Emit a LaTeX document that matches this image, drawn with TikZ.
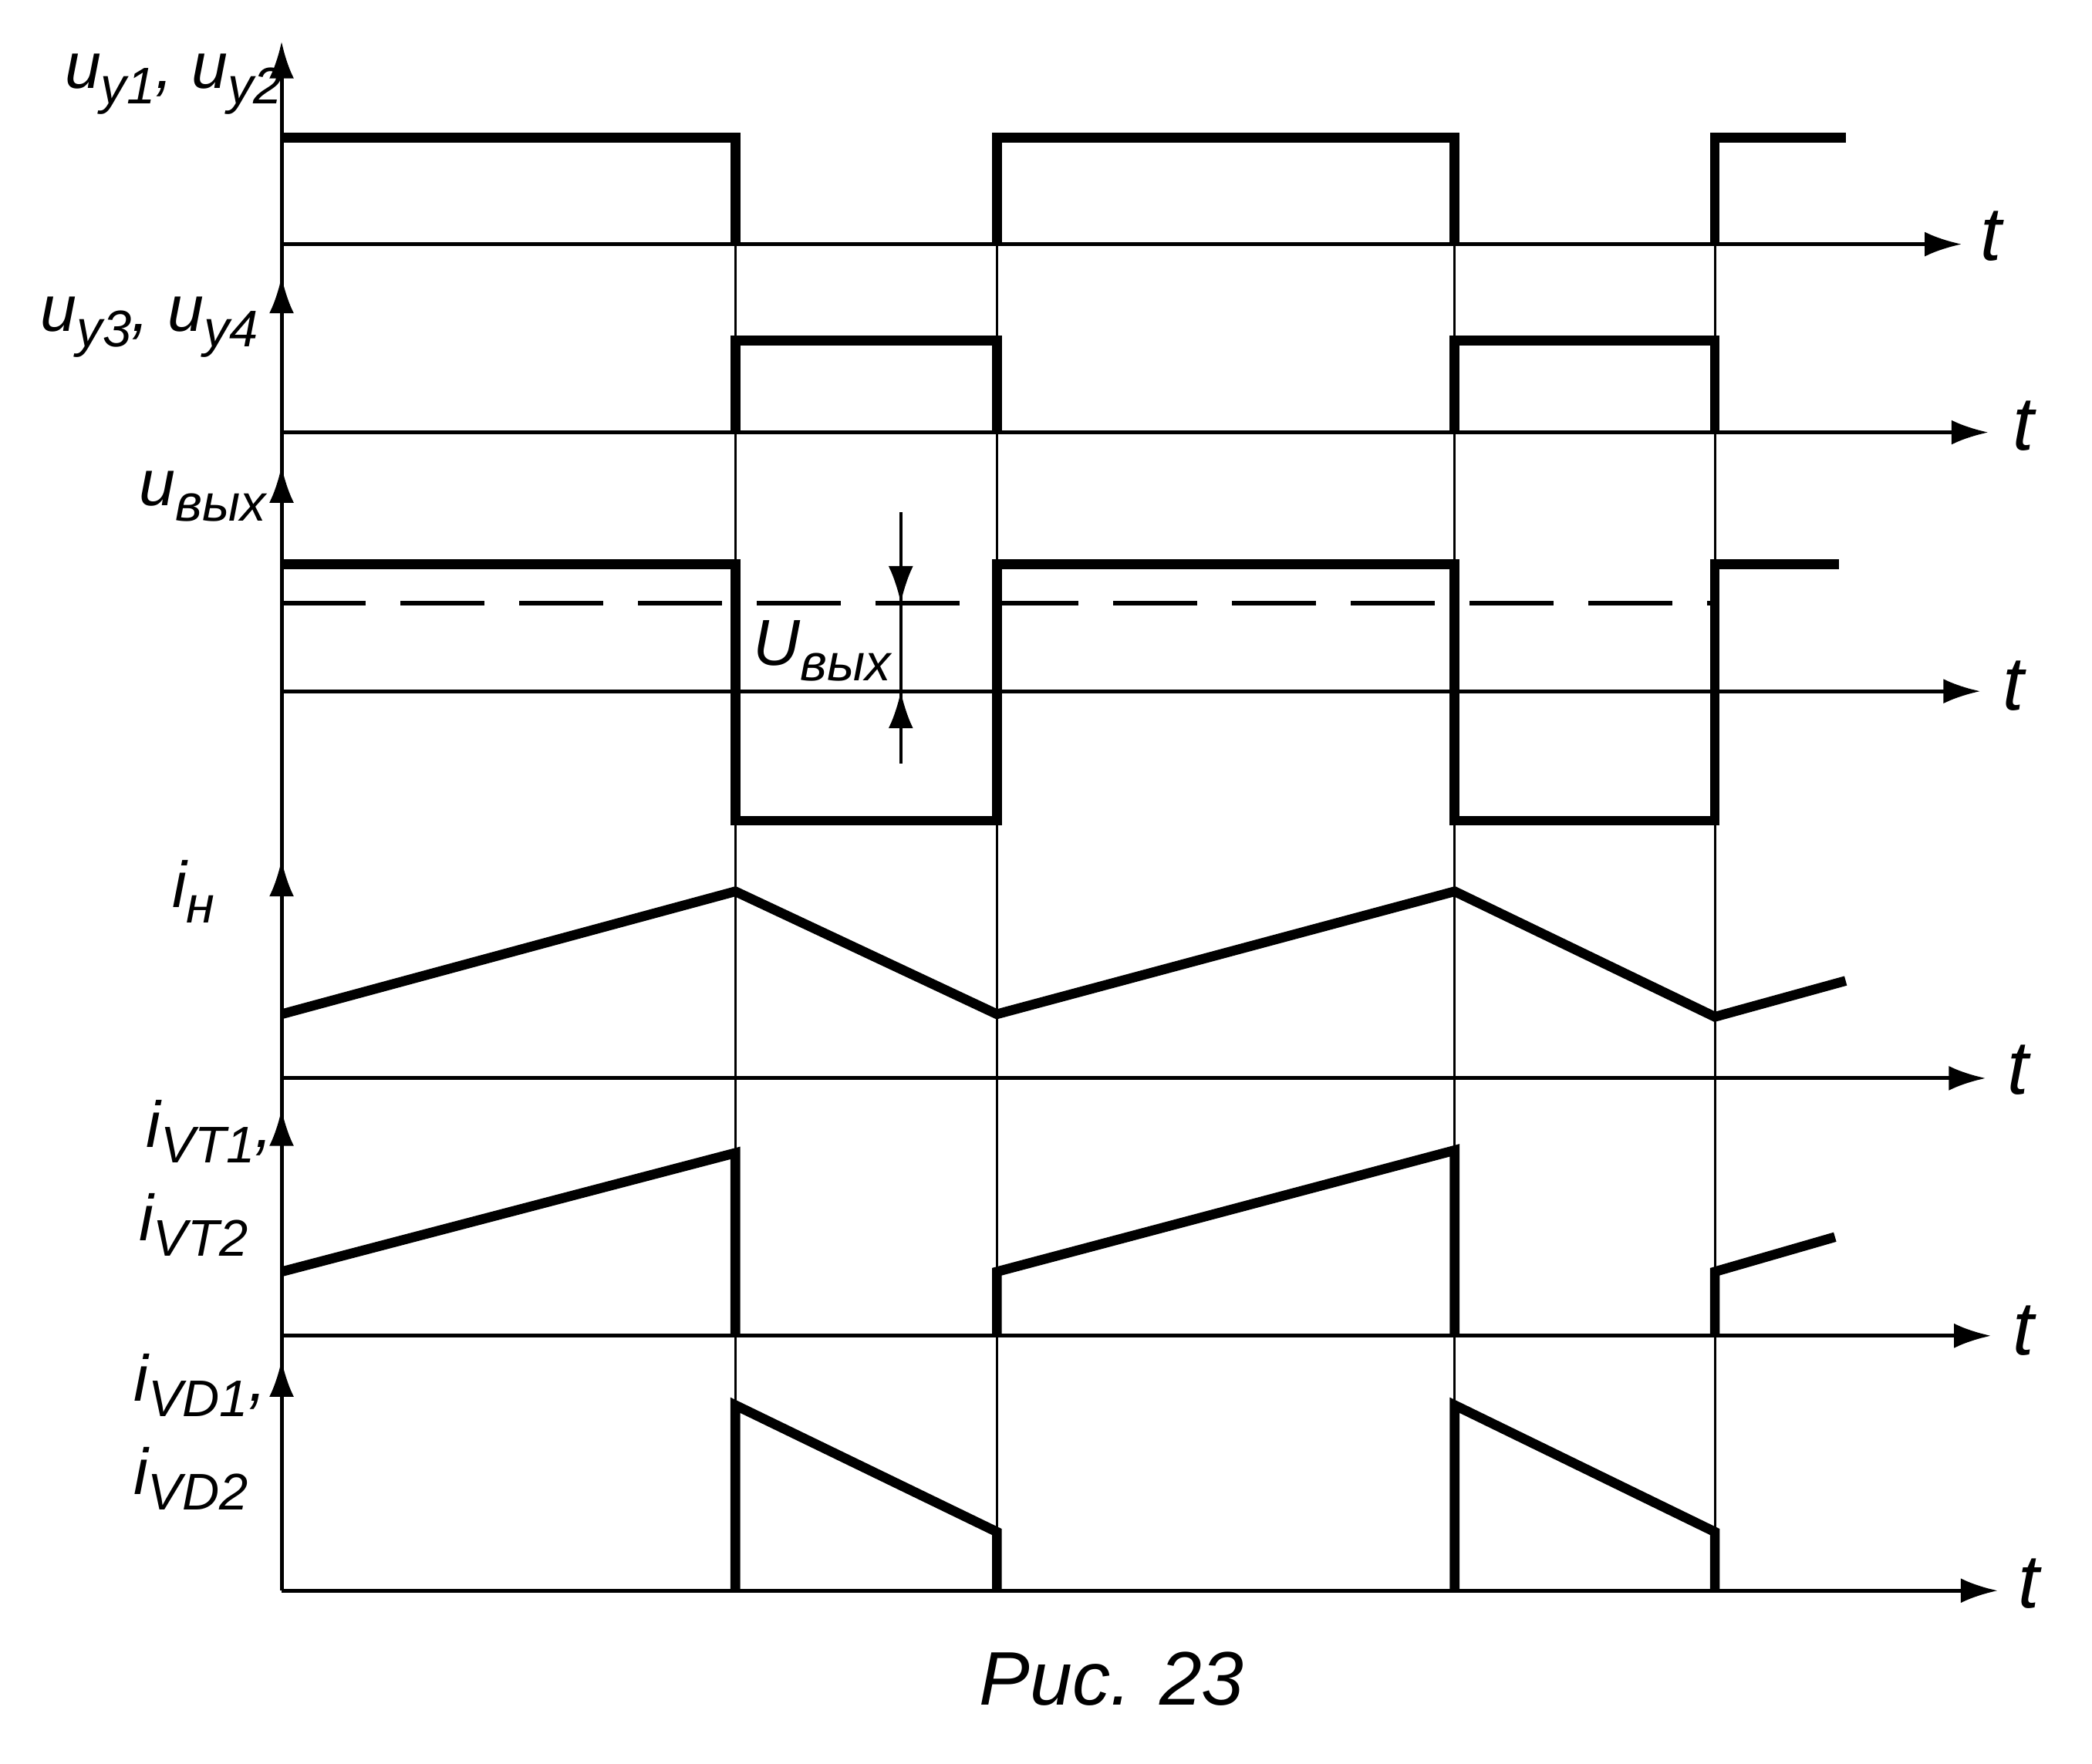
\documentclass[tikz,border=0pt]{standalone}
\usepackage{fontspec}
\setmainfont{Liberation Sans}
\usetikzlibrary{arrows.meta}
\newcommand{\sig}[2]{#1\raisebox{-0.45ex}{\fontsize{19}{20}\selectfont #2}}

\begin{document}
\begin{tikzpicture}
        [x=0.173mm,y=-0.173mm,
         axis/.style={line width=1.4pt,-{Latex[length=4.8mm,width=3.2mm]}},
         guide/.style={line width=0.9pt},
         wave/.style={line width=3.6pt,line join=miter},
         lbl/.style={font=\fontsize{24}{26}\selectfont\itshape,inner sep=1pt}]
        \useasboundingbox (0,0) rectangle (1567.6,1321.4);

        % time axes
        \draw[line width=1.4pt] (211,1192) -- (211,60);
        \foreach \a/\tip in {183/31,324/207,518/349,808/644,1001/831,1192/1019}
            \draw[axis] (211,\a) -- (211,\tip);
        \foreach \a/\e/\tx/\ty [count=\i] in {183/1470/1492/177,324/1490/1516/319,518/1484/1509/514,808/1488/1512/802,1001/1492/1516/997,1192/1497/1520/1187}
        {
            \draw[axis] (211,\a) -- (\e,\a);
            \node[font=\fontsize{28}{30}\selectfont\itshape,inner sep=0pt] (t\i) at (\tx,\ty) {t};
        }

        % switching instants
        \foreach \x in {551,747,1090,1285}
            \draw[guide] (\x,103) -- (\x,1192);

        % u_y1, u_y2
        \draw[wave] (211,103) -- (551,103) -- (551,183);
        \draw[wave] (747,183) -- (747,103) -- (1090,103) -- (1090,183);
        \draw[wave] (1285,183) -- (1285,103) -- (1383,103);
        % u_y3, u_y4
        \draw[wave] (551,324) -- (551,255) -- (747,255) -- (747,324);
        \draw[wave] (1090,324) -- (1090,255) -- (1285,255) -- (1285,324);
        % u_out
        \draw[wave] (211,423) -- (551,423) -- (551,615) -- (747,615) -- (747,423)
              -- (1090,423) -- (1090,615) -- (1285,615) -- (1285,423) -- (1378,423);
        \draw[line width=1.9pt,dash pattern=on 1.09cm off 0.45cm] (211,452) -- (1285,452);
        \coordinate (ua) at (675,384);
        \coordinate (ub) at (675,572);
        \draw[line width=1.2pt] (ua) -- (ub);
        \draw[axis,line width=1.2pt] (ua) -- (675,452);
        \draw[axis,line width=1.2pt] (ub) -- (675,518);
        % i_load
        \draw[wave] (211,760) -- (551,668) -- (747,760) -- (1090,668) -- (1285,762) -- (1383,735);
        % i_VT
        \draw[wave] (211,953) -- (551,864) -- (551,1001);
        \draw[wave] (747,1001) -- (747,953) -- (1090,862) -- (1090,1001);
        \draw[wave] (1285,1001) -- (1285,953) -- (1375,927);
        % i_VD
        \draw[wave] (551,1192) -- (551,1053) -- (747,1148) -- (747,1192);
        \draw[wave] (1090,1192) -- (1090,1053) -- (1285,1148) -- (1285,1192);

        % labels
        \node[lbl] (uy12) at (130,63) {\sig{u}{у1}, \sig{u}{у2}};
        \node[lbl] (uy34) at (112,245) {\sig{u}{у3}, \sig{u}{у4}};
        \node[lbl] (uout) at (152,372) {\sig{u}{вых}};
        \node[lbl] (Uout) at (616,488) {\sig{U}{вых}};
        \node[lbl] (iload) at (145,668) {\sig{i}{н}};
        \node[lbl] (ivt1) at (157,848) {\sig{i}{VT1},};
        \node[lbl] (ivt2) at (145,918) {\sig{i}{VT2}};
        \node[lbl] (ivd1) at (150,1038) {\sig{i}{VD1},};
        \node[lbl] (ivd2) at (143,1108) {\sig{i}{VD2}};
        \node[font=\fontsize{28}{30}\selectfont\itshape] (cap) at (833,1258) {Рис. 23};
\end{tikzpicture}
\end{document}
